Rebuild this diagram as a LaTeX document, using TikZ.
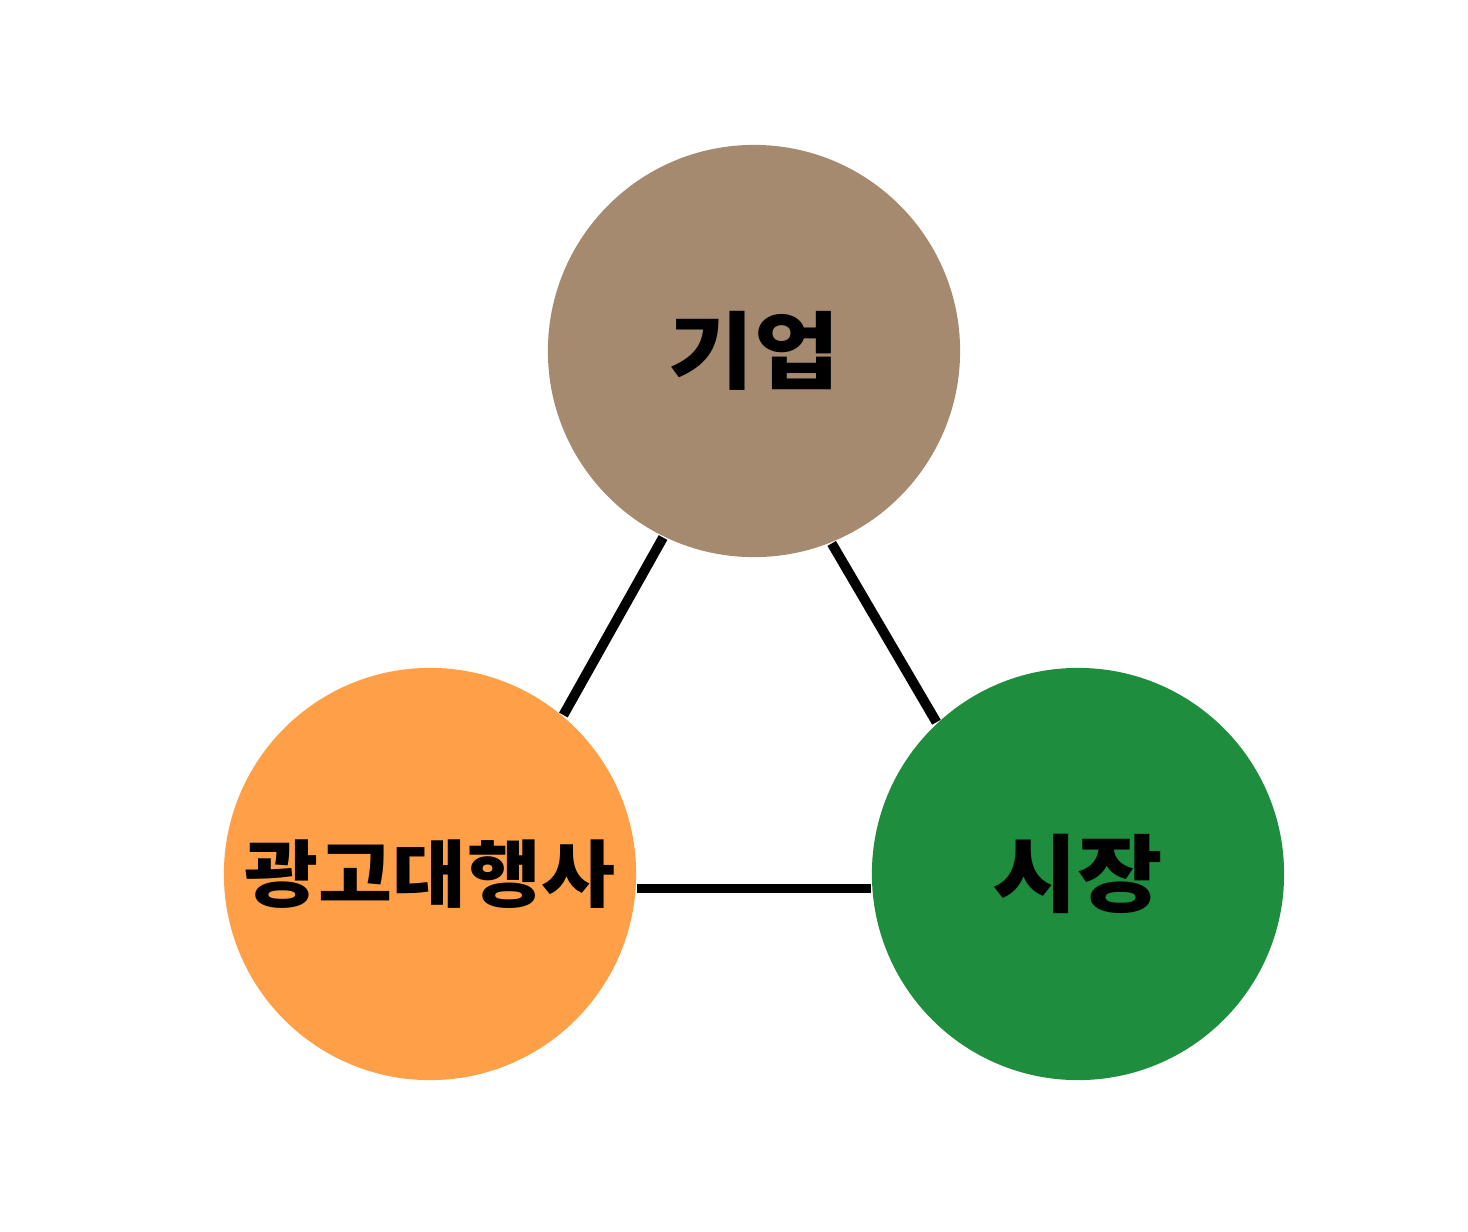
\documentclass[tikz,border=0pt]{standalone}
\usepackage{fontspec}
\newfontfamily\kr{Noto Sans CJK KR Black}
\usetikzlibrary{positioning,backgrounds}
\newcommand{\wide}[1]{\scalebox{1.1}[1]{#1}}

\begin{document}
\begin{tikzpicture}[x=0.01cm,y=-0.01cm,thick,
                main node/.style={circle,inner sep=0pt,minimum size=4.12cm,font=\kr\fontsize{24}{26}\selectfont},
                long label/.style={font=\kr\fontsize{20.8}{24}\selectfont},
                link/.style={line width=2.8pt,black}]
            \definecolor{firmcol}{HTML}{A68A70}
            \definecolor{agencycol}{HTML}{FFA048}
            \definecolor{marketcol}{HTML}{1E8E3E}
            \useasboundingbox (0,0) rectangle (1468,1232);
            \node[main node,fill=firmcol] (1) at (754,351) {\wide{기업}};
            \node[main node,long label,fill=agencycol] (2) at (430,874) {\wide{광고대행사}};
            \node[main node,fill=marketcol] (3) at (1078,874) {\wide{시장}};
            \begin{scope}[on background layer]
            \path[link]
                (1.244) edge (2.50)
                (1.292) edge (3.133)
                (2.-4) edge (3.184);
            \end{scope}
        \end{tikzpicture}
\end{document}
